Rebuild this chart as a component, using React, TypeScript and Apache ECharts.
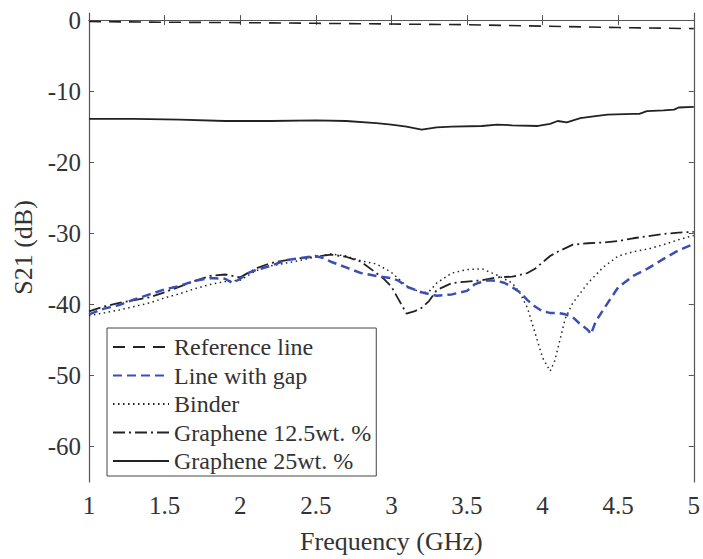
import React, { useEffect, useRef } from "react";
import * as echarts from "echarts";

// ---- data ----
const refFreq = [1.0, 1.5, 2.0, 2.5, 3.0, 3.5, 4.0, 4.5, 5.0];
const refVals = [-0.2, -0.3, -0.35, -0.45, -0.55, -0.65, -0.85, -1.05, -1.2];

const gapFreq = [1.0, 1.1, 1.2, 1.3, 1.4, 1.5, 1.6, 1.7, 1.8, 1.9, 1.95, 2.0, 2.05, 2.1, 2.2, 2.3, 2.4, 2.5, 2.55, 2.6, 2.7, 2.8, 2.9, 3.0, 3.05, 3.1, 3.2, 3.3, 3.4, 3.5, 3.55, 3.6, 3.65, 3.7, 3.75, 3.8, 3.85, 3.9, 3.95, 4.0, 4.05, 4.1, 4.15, 4.2, 4.25, 4.3, 4.32, 4.35, 4.4, 4.45, 4.5, 4.6, 4.7, 4.8, 4.9, 5.0];
const gapVals = [-41.4, -40.6, -40.1, -39.3, -38.6, -37.9, -37.4, -36.7, -36.3, -36.4, -37.0, -36.4, -35.6, -35.2, -34.6, -33.8, -33.5, -33.2, -33.5, -34.0, -34.8, -35.6, -36.0, -36.3, -36.7, -37.5, -38.3, -38.8, -38.6, -38.1, -37.2, -36.8, -36.6, -36.7, -37.0, -37.6, -38.3, -39.4, -40.3, -41.0, -41.2, -41.2, -41.4, -41.8, -42.8, -43.6, -44.2, -42.5, -40.8, -39.2, -37.6, -36.0, -34.9, -33.6, -32.4, -31.5];

const binderFreq = [1.0, 1.1, 1.2, 1.3, 1.4, 1.5, 1.6, 1.7, 1.8, 1.9, 2.0, 2.1, 2.2, 2.3, 2.4, 2.5, 2.6, 2.7, 2.8, 2.9, 3.0, 3.1, 3.2, 3.25, 3.3, 3.4, 3.5, 3.6, 3.7, 3.8, 3.85, 3.9, 3.95, 4.0, 4.05, 4.08, 4.1, 4.15, 4.2, 4.25, 4.3, 4.4, 4.5, 4.6, 4.7, 4.8, 4.9, 5.0];
const binderVals = [-41.6, -41.2, -40.8, -40.3, -39.8, -39.1, -38.5, -37.8, -37.2, -36.8, -36.6, -35.3, -34.6, -34.2, -33.8, -33.3, -32.9, -33.2, -33.9, -34.3, -35.5, -37.4, -38.4, -38.2, -37.0, -35.6, -35.1, -35.0, -35.9, -37.0, -38.4, -40.5, -44.0, -47.5, -49.4, -48.0, -46.3, -42.0, -39.8, -38.4, -37.0, -34.8, -33.2, -32.6, -32.2, -31.6, -30.9, -30.3];

const g125Freq = [1.0, 1.1, 1.2, 1.3, 1.4, 1.5, 1.6, 1.7, 1.8, 1.9, 2.0, 2.1, 2.2, 2.3, 2.4, 2.5, 2.6, 2.7, 2.8, 2.9, 2.95, 3.0, 3.05, 3.1, 3.15, 3.2, 3.25, 3.3, 3.4, 3.5, 3.6, 3.7, 3.8, 3.9, 3.95, 4.0, 4.05, 4.1, 4.2, 4.3, 4.4, 4.5, 4.6, 4.7, 4.8, 4.9, 5.0];
const g125Vals = [-41.0, -40.3, -39.8, -39.4, -39.0, -38.3, -37.5, -36.7, -36.0, -35.8, -36.2, -35.0, -34.2, -33.8, -33.5, -33.3, -33.0, -33.3, -34.0, -35.6, -36.4, -37.5, -39.4, -41.3, -41.0, -40.5, -39.5, -38.0, -37.0, -36.8, -36.6, -36.2, -36.1, -35.6, -35.0, -34.1, -33.2, -32.6, -31.6, -31.4, -31.3, -31.1, -30.7, -30.4, -30.1, -29.9, -29.8];

const g25Freq = [1.0, 1.3, 1.6, 1.9, 2.2, 2.5, 2.7, 2.9, 3.0, 3.1, 3.2, 3.3, 3.4, 3.6, 3.7, 3.8, 3.97, 4.05, 4.1, 4.16, 4.25, 4.35, 4.43, 4.6, 4.64, 4.69, 4.8, 4.87, 4.9, 5.0];
const g25Vals = [-13.9, -13.9, -14.0, -14.2, -14.2, -14.1, -14.2, -14.5, -14.7, -15.0, -15.4, -15.1, -15.0, -14.9, -14.7, -14.8, -14.9, -14.6, -14.2, -14.4, -13.8, -13.5, -13.3, -13.2, -13.2, -12.8, -12.7, -12.6, -12.3, -12.2];

const xTicks = [1, 1.5, 2, 2.5, 3, 3.5, 4, 4.5, 5];
const yTicks = [-60, -50, -40, -30, -20, -10, 0];

const zip = (xs: number[], ys: number[]) => xs.map((x, i) => [x, ys[i]]);

const FONT = "'Liberation Serif', 'Times New Roman', 'DejaVu Serif', serif";
const TEXT = "#333";
const AXIS = "#555";

export default function App() {
  const ref = useRef<HTMLDivElement>(null);
  useEffect(() => {
    if (!ref.current) return;
    const chart = echarts.init(ref.current, undefined, { renderer: "svg" });
    const axisCommon = {
      axisLine: { show: true, lineStyle: { color: AXIS, width: 1.2 } },
      splitLine: { show: false },
    };
    const mk = (name: string, xs: number[], ys: number[], color: string, width: number, type: any, z = 3) => ({
      name,
      type: "line",
      showSymbol: false,
      symbol: "none",
      data: zip(xs, ys),
      lineStyle: { color, width, type },
      itemStyle: { color },
      z,
    });
    chart.setOption({
      animation: false,
      backgroundColor: "#fff",
      textStyle: { fontFamily: FONT },
      grid: { left: 89, right: 6, top: 13, bottom: 74 },
      xAxis: [
        {
          type: "value",
          min: xTicks[0],
          max: xTicks[xTicks.length - 1],
          interval: 0.5,
          position: "bottom",
          ...axisCommon,
          axisTick: { show: true, inside: true, length: 5, lineStyle: { color: AXIS } },
          axisLabel: { fontFamily: FONT, fontSize: 25, color: TEXT, margin: 11 },
          name: "Frequency (GHz)",
          nameLocation: "middle",
          nameGap: 46,
          nameTextStyle: { fontFamily: FONT, fontSize: 26, color: TEXT },
        },
        {
          type: "value",
          min: xTicks[0],
          max: xTicks[xTicks.length - 1],
          interval: 0.5,
          position: "top",
          ...axisCommon,
          axisTick: { show: true, inside: true, length: 5, lineStyle: { color: AXIS } },
          axisLabel: { show: false },
        },
      ],
      yAxis: [
        {
          type: "value",
          min: -65,
          max: 1,
          position: "left",
          ...axisCommon,
          axisTick: { show: true, inside: true, length: 5, customValues: yTicks, lineStyle: { color: AXIS } },
          axisLabel: { fontFamily: FONT, fontSize: 25, color: TEXT, margin: 8, customValues: yTicks },
          name: "S21 (dB)",
          nameLocation: "middle",
          nameGap: 50,
          nameTextStyle: { fontFamily: FONT, fontSize: 26, color: TEXT },
        },
        {
          type: "value",
          min: -65,
          max: 1,
          position: "right",
          ...axisCommon,
          axisTick: { show: true, inside: true, length: 5, customValues: yTicks, lineStyle: { color: AXIS } },
          axisLabel: { show: false, customValues: yTicks },
        },
      ],
      legend: {
        orient: "vertical",
        left: 107,
        top: 328,
        padding: [7, 5, 3, 5],
        itemWidth: 56,
        itemHeight: 14,
        itemGap: 4.5,
        backgroundColor: "#fff",
        borderColor: "#444",
        borderWidth: 1,
        borderRadius: 0,
        itemStyle: { opacity: 0 },
        textStyle: { fontFamily: FONT, fontSize: 24, color: TEXT, lineHeight: 24 },
        data: ["Reference line", "Line with gap", "Binder", "Graphene 12.5wt. %", "Graphene 25wt. %"],
      },
      series: [
        mk("Reference line", refFreq, refVals, "#222", 1.6, [12, 8]),
        mk("Line with gap", gapFreq, gapVals, "#3a4fb5", 2.5, [9, 5], 4),
        mk("Binder", binderFreq, binderVals, "#222", 1.5, [1.5, 3.5]),
        mk("Graphene 12.5wt. %", g125Freq, g125Vals, "#222", 1.8, [12, 4, 2, 4]),
        mk("Graphene 25wt. %", g25Freq, g25Vals, "#222", 1.8, "solid"),
      ],
    });
    return () => chart.dispose();
  }, []);
  return (
    <div
      ref={ref}
      style={{ position: "absolute", left: 0, top: 0, width: 703, height: 559 }}
    />
  );
}
